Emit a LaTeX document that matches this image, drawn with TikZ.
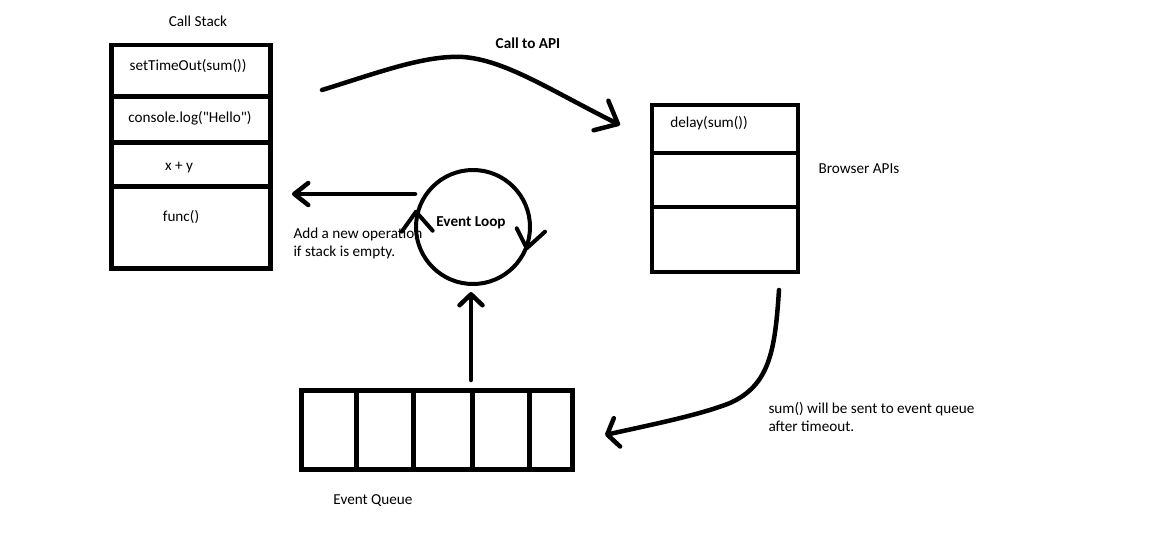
\documentclass[tikz,border=0pt]{standalone}
\usepackage{fontspec}
\setmainfont{Carlito}[Ligatures=TeXOff]
\usetikzlibrary{arrows.meta,calc}
\begin{document}
\begin{tikzpicture}[x=1pt,y=-1pt,
  every node/.style={font=\fontsize{15.2}{17.8}\selectfont, text=black},
  cell/.style={draw=black, line width=4.5pt, inner sep=0pt, outer sep=0pt, anchor=north west},
  lbl/.style={inner sep=0pt, anchor=base},
  lblb/.style={inner sep=0pt, anchor=base, font=\fontsize{15.2}{17.8}\selectfont\bfseries},
  note/.style={inner sep=0pt, anchor=base west, align=left},
  conn/.style={draw=black, line width=4.5pt, line cap=round, line join=round},
]
\useasboundingbox (0,0) rectangle (1163,542);
% Call stack
\node[cell, minimum width=159pt, minimum height=51.7pt] (s1) at (111.5,45) {};
\node[cell, minimum width=159pt, minimum height=45.8pt] (s2) at (111.5,96.7) {};
\node[cell, minimum width=159pt, minimum height=44pt] (s3) at (111.5,142.5) {};
\node[cell, minimum width=159pt, minimum height=82pt] (s4) at (111.5,186.5) {};
\node[lbl] (tstack) at (198,26.4) {Call Stack};
\node[lbl] (t1) at (188,70.7) {setTimeOut(sum())};
\node[lbl] (t2) at (190,122.4) {console.log("Hello")};
\node[lbl] (t3) at (179,170.4) {x + y};
\node[lbl] (t4) at (181,221.4) {func()};
% Browser APIs
\node[cell, line width=4.3pt, minimum width=146pt, minimum height=48.3pt] (b1) at (652,104.7) {};
\node[cell, line width=4.3pt, minimum width=146pt, minimum height=54pt] (b2) at (652,153) {};
\node[cell, line width=4.3pt, minimum width=146pt, minimum height=65pt] (b3) at (652,207) {};
\node[lbl] (tdelay) at (709,127.7) {delay(sum())};
\node[lbl] (tbrowser) at (859,173.7) {Browser APIs};
% Event queue
\node[cell, line width=5pt, minimum width=55.5pt, minimum height=78.6pt] (q1) at (301,390.7) {};
\node[cell, line width=5pt, minimum width=56.5pt, minimum height=78.6pt] (q2) at (356.5,390.7) {};
\node[cell, line width=5pt, minimum width=59.5pt, minimum height=78.6pt] (q3) at (413,390.7) {};
\node[cell, line width=5pt, minimum width=56.8pt, minimum height=78.6pt] (q4) at (472.5,390.7) {};
\node[cell, line width=5pt, minimum width=42.7pt, minimum height=78.6pt] (q5) at (529.3,390.7) {};
\node[lbl] (tqueue) at (373,504.7) {Event Queue};
% Event loop
\node[circle, draw=black, line width=4pt, minimum size=114pt, inner sep=0pt] (loop) at (473,227) {};
\node[lblb] (tloop) at (471,226.4) {Event Loop};
\begin{scope}[shift={(loop.center)}]
  \draw[conn, line width=4pt] (-71.3,4.7) -- (-57,-15.3) -- (-40.3,3.7);
  \draw[conn, line width=4pt] (43.7,1.3) -- (53.7,21.3) -- (72,4.7);
\end{scope}
% Texts
\node[lblb] (tapi) at (528,48) {Call to API};
\node[note] (tadd) at (293.3,256) {Add a new operation\\if stack is empty.};
\node[note] (tsum) at (768.3,431.3) {sum() will be sent to event queue\\after timeout.};
% Connectors
\coordinate (apistart) at (322,90);
\coordinate (apiend) at (620,125);
\draw[conn, -{Straight Barb[length=19pt,width=33pt,round]}] (apistart) .. controls (380,72) and (425,55) .. (463,57) .. controls (505,60) and (550,90) .. (apiend);
\coordinate (addstart) at (415,194);
\coordinate (addend) at (292,194);
\draw[conn, -{Straight Barb[length=14pt,width=22pt,round]}] (addstart) -- (addend);
\coordinate (qtop) at (471,380);
\coordinate (looptip) at (471,292);
\draw[conn, -{Straight Barb[length=11pt,width=23pt,round]}] (qtop) -- (looptip);
\coordinate (sumstart) at (779,290);
\coordinate (sumend) at (605,435);
\draw[conn, -{Straight Barb[length=10pt,width=29pt,round]}] (sumstart) .. controls (775,350) and (770,385) .. (730,403) .. controls (700,415) and (650,425) .. (sumend);
\end{tikzpicture}
\end{document}
